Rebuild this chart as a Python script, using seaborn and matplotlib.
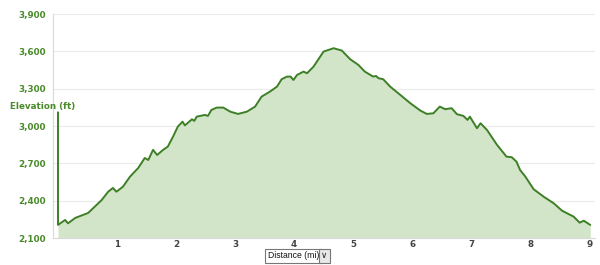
import matplotlib
matplotlib.use("Agg")
import matplotlib.pyplot as plt
import seaborn as sns
import pandas as pd

distance_mi = [0.0, 0.0, 0.12, 0.17, 0.29, 0.51, 0.74, 0.85, 0.93, 0.99, 1.10, 1.22, 1.36,
               1.47, 1.53, 1.61, 1.68, 1.78, 1.86, 1.95, 2.03, 2.11, 2.15, 2.27, 2.31,
               2.35, 2.49, 2.54, 2.60, 2.69, 2.80, 2.92, 3.05, 3.20, 3.34, 3.45, 3.59,
               3.71, 3.79, 3.88, 3.94, 3.99, 4.05, 4.16, 4.22, 4.33, 4.50, 4.67, 4.81,
               4.95, 5.09, 5.20, 5.34, 5.39, 5.43, 5.51, 5.63, 5.80, 5.97, 6.14, 6.25,
               6.36, 6.47, 6.56, 6.67, 6.76, 6.87, 6.94, 6.98, 7.10, 7.16, 7.27, 7.44,
               7.60, 7.69, 7.77, 7.83, 7.92, 8.06, 8.23, 8.40, 8.54, 8.65, 8.74, 8.84,
               8.91, 9.02]
elevation_ft = [3110, 2205, 2245, 2218, 2261, 2301, 2405, 2472, 2502, 2472, 2512, 2593, 2663,
                2743, 2727, 2808, 2767, 2808, 2834, 2915, 2995, 3035, 3005, 3054, 3041,
                3075, 3089, 3081, 3129, 3148, 3148, 3115, 3097, 3115, 3156, 3236, 3276,
                3316, 3376, 3397, 3397, 3370, 3410, 3437, 3424, 3477, 3598, 3625, 3606,
                3537, 3491, 3437, 3397, 3402, 3384, 3376, 3316, 3250, 3183, 3124, 3097,
                3102, 3156, 3135, 3143, 3095, 3081, 3049, 3075, 2982, 3022, 2968, 2848,
                2754, 2749, 2713, 2647, 2593, 2492, 2432, 2379, 2320, 2293, 2271, 2223,
                2239, 2205]
y_ticks = [2100, 2400, 2700, 3000, 3300, 3600, 3900]
x_ticks = [1, 2, 3, 4, 5, 6, 7, 8, 9]

df = pd.DataFrame({"Distance": distance_mi, "Elevation": elevation_ft})

sns.set_style("white")
plt.rcParams['font.family'] = ['DejaVu Sans']

fig = plt.figure(figsize=(6.0, 2.65), dpi=100)
ax = fig.add_axes([53/600, 1 - 238/265, (595 - 53)/600, (238 - 14)/265])

line_col = "#3d7f26"
fill_col = "#d3e5c8"

ax.fill_between(df["Distance"][1:], df["Elevation"][1:], 2100, color=fill_col, lw=0, zorder=1)
sns.lineplot(data=df, x="Distance", y="Elevation", estimator=None, sort=False,
             color=line_col, lw=1.4, ax=ax, zorder=3)

ax.set_xlim(-0.085, 9.10)
ax.set_ylim(2100, 3900)
ax.set_yticks(y_ticks)
ax.set_yticklabels([f"{v:,}" for v in y_ticks], color="#4a8a2a", fontsize=6.3, fontweight="bold")
ax.set_xticks(x_ticks)
ax.set_xticklabels([str(v) for v in x_ticks], color="#444444", fontsize=6.3, fontweight="bold")
ax.grid(axis="y", color="#ebebeb", lw=0.8, zorder=0)
ax.set_axisbelow(True)
ax.set_xlabel("")
ax.set_ylabel("")
for s in ["top", "right"]:
    ax.spines[s].set_visible(False)
ax.spines["left"].set_color("#d9d9d9")
ax.spines["bottom"].set_color("#d9d9d9")
ax.spines["left"].set_linewidth(0.8)
ax.spines["bottom"].set_linewidth(0.8)
ax.tick_params(axis="y", length=3, color="#d9d9d9", pad=2)
ax.tick_params(axis="x", length=0, color="#d9d9d9", pad=1.5)

fig.text(10/600, 1 - 106/265, "Elevation (ft)", color="#4a8a2a", fontsize=6.3,
         fontweight="bold", va="center", ha="left")

fig.text(268/600, 1 - 256/265, "Distance (mi)", color="#111111", fontsize=6.2,
         family=["Liberation Sans"], va="center", ha="left",
         bbox=dict(boxstyle="square,pad=0.3", fc="white", ec="#777777", lw=0.8))
fig.text(321/600, 1 - 256/265, "\u2228", color="#222222", fontsize=6.2,
         va="center", ha="left",
         bbox=dict(boxstyle="square,pad=0.25", fc="#e8e8e8", ec="#777777", lw=0.8))

fig.savefig("out.png", dpi=100)
